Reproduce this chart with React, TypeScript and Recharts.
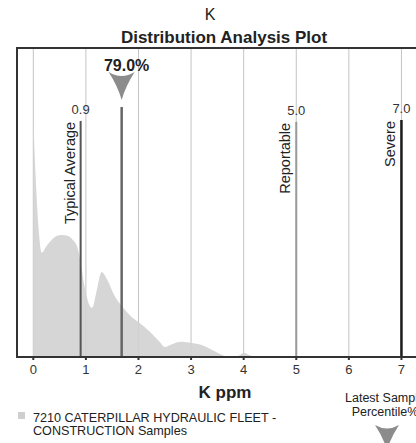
import React from "react";
import {
  ComposedChart,
  Area,
  XAxis,
  YAxis,
  CartesianGrid,
  ReferenceLine,
  ReferenceArea,
} from "recharts";

// K ppm values and the relative sample density
const kPpm = [
  0, 0.04, 0.1, 0.16, 0.25, 0.35, 0.45, 0.54, 0.65, 0.75, 0.83, 0.9, 0.97, 1.05, 1.12,
  1.2, 1.3, 1.4, 1.55, 1.7, 1.85, 2.0, 2.2, 2.4, 2.5, 2.65, 2.8, 3.0, 3.2, 3.4, 3.6,
  3.7, 3.9, 4.0, 4.15, 4.3,
];
const density = [
  77, 60, 41.7, 33.7, 35.9, 37.9, 39.2, 39.5, 39.2, 37.9, 35.9, 30.7, 23.3, 17.5, 15.9,
  21, 27.5, 25.2, 19.7, 16.2, 13.3, 11.3, 8.4, 4.9, 3.2, 4.2, 4.9, 4.5, 3.9, 2.3, 0.6,
  0, 0.4, 1.4, 0.3, 0,
];
const xTicks = [0, 1, 2, 3, 4, 5, 6, 7];

const typicalAverage = 0.9;
const reportable = 5.0;
const severe = 7.0;
const latestSample = 1.68;
const latestPercentile = "79.0%";

const data = kPpm.map((k, i) => ({ k, d: density[i] }));

const FONT = '"Liberation Sans", Arial, sans-serif';

const limitLabel = (value: string, name: string) => (props: any) => {
  const { x, y } = props.viewBox;
  return (
    <g>
      <text x={x} y={y - 6.5} textAnchor="middle" fontSize={13} fill="#333">
        {value}
      </text>
      <text
        transform={`translate(${x - 6},${y + 1}) rotate(-90)`}
        textAnchor="end"
        fontSize={14.5}
        fill="#222"
      >
        {name}
      </text>
    </g>
  );
};

const latestLabel = (props: any) => {
  const { x, y } = props.viewBox;
  return (
    <g>
      <text x={x + 5} y={y - 36} textAnchor="middle" fontSize={16} fontWeight="bold" fill="#222">
        {latestPercentile}
      </text>
      <path
        d={`M${x - 13},${y - 35} Q${x},${y - 27} ${x + 13},${y - 35} Q${x + 4},${y - 21} ${x},${y - 7} Q${x - 4},${y - 21} ${x - 13},${y - 35}Z`}
        fill="#8c8c8c"
      />
    </g>
  );
};

export default function App() {
  return (
    <div
      style={{
        position: "absolute",
        left: 0,
        top: 0,
        width: 416,
        height: 443,
        overflow: "hidden",
        background: "#fff",
        fontFamily: FONT,
        color: "#222",
      }}
    >
      <div style={{ position: "absolute", left: 160, width: 100, top: 7, textAlign: "center", fontSize: 16, lineHeight: "16px" }}>
        K
      </div>
      <div
        style={{
          position: "absolute",
          left: 74,
          width: 300,
          top: 29,
          textAlign: "center",
          fontSize: 17,
          lineHeight: "17px",
          fontWeight: "bold",
        }}
      >
        Distribution Analysis Plot
      </div>

      <ComposedChart
        width={443}
        height={443}
        data={data}
        margin={{ top: 48, left: 17, right: 10, bottom: 56 }}
        style={{ position: "absolute", left: 0, top: 0 }}
      >
        <CartesianGrid horizontal={false} stroke="#c4c4c4" strokeWidth={1} />
        <XAxis
          dataKey="k"
          type="number"
          domain={[-0.31, 7.6]}
          allowDataOverflow
          ticks={xTicks}
          height={30}
          tickSize={3}
          tickMargin={5}
          axisLine={{ stroke: "#333", strokeWidth: 2 }}
          tickLine={{ stroke: "#333", strokeWidth: 2 }}
          tick={{ fill: "#333", fontSize: 13 }}
        />
        <YAxis hide domain={[0, 100]} allowDataOverflow />
        <Area
          dataKey="d"
          type="monotone"
          stroke="none"
          fill="#d2d2d2"
          fillOpacity={0.9}
          isAnimationActive={false}
        />
        <ReferenceArea
          x1={-0.31}
          x2={7.6}
          y1={0}
          y2={100}
          fill="none"
          stroke="#333"
          strokeWidth={2}
        />
        <ReferenceLine
          segment={[{ x: typicalAverage, y: 0 }, { x: typicalAverage, y: 76.4 }]}
          stroke="#555"
          strokeWidth={2}
          label={limitLabel("0.9", "Typical Average")}
        />
        <ReferenceLine
          segment={[{ x: reportable, y: 0 }, { x: reportable, y: 76.1 }]}
          stroke="#999"
          strokeWidth={2}
          label={limitLabel("5.0", "Reportable")}
        />
        <ReferenceLine
          segment={[{ x: severe, y: 0 }, { x: severe, y: 76.7 }]}
          stroke="#1a1a1a"
          strokeWidth={2.5}
          label={limitLabel("7.0", "Severe")}
        />
        <ReferenceLine
          segment={[{ x: latestSample, y: 0 }, { x: latestSample, y: 80.9 }]}
          stroke="#666"
          strokeWidth={2.5}
          label={latestLabel}
        />
      </ComposedChart>

      <div
        style={{
          position: "absolute",
          left: 150,
          width: 150,
          top: 384,
          textAlign: "center",
          fontSize: 17,
          lineHeight: "17px",
          fontWeight: "bold",
        }}
      >
        K ppm
      </div>

      <div style={{ position: "absolute", left: 18, top: 412, width: 7, height: 7, background: "#cfcfcf" }} />
      <div style={{ position: "absolute", left: 33, top: 412, fontSize: 12.6, lineHeight: "13px", color: "#222", whiteSpace: "nowrap" }}>
        7210 CATERPILLAR HYDRAULIC FLEET -
        <br />
        CONSTRUCTION Samples
      </div>

      <div
        style={{
          position: "absolute",
          left: 335,
          width: 100,
          top: 391,
          textAlign: "center",
          fontSize: 12.5,
          lineHeight: "14px",
          color: "#222",
          whiteSpace: "nowrap",
        }}
      >
        Latest Sample
        <br />
        Percentile%
      </div>
      <svg style={{ position: "absolute", left: 0, top: 0 }} width={416} height={443}>
        <path d="M375,425 Q387,432 399,425 Q391,437 387,450 Q383,437 375,425Z" fill="#8c8c8c" />
      </svg>
    </div>
  );
}
